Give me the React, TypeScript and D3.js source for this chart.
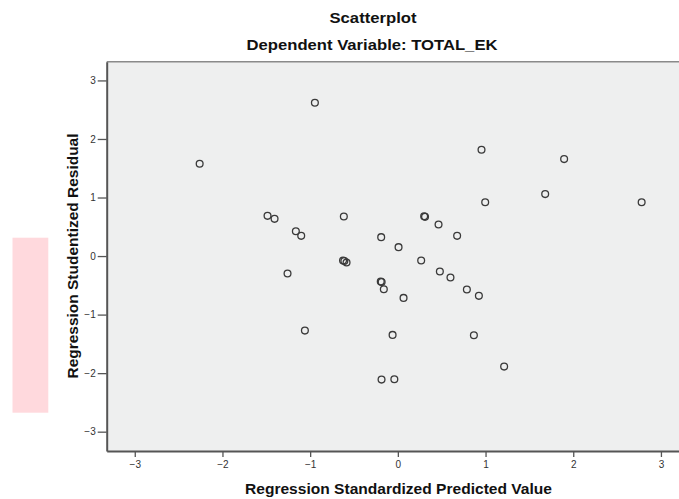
import React, { useEffect, useRef } from "react";
import * as d3 from "d3";

// values
const predicted = [
  -0.946, -2.26, -1.486, -1.406, -1.163, -1.102, -0.616, -0.19, 0.008, 0.954,
  1.896, 1.68, 0.996, 2.78, 0.3, 0.31, 0.464, 0.676, 0.266, 0.479, 0.6, 0.787,
  0.924, 0.065, -0.06, 0.867, 1.212, -0.04, -0.186, -1.258, -0.625, -0.61,
  -0.585, -0.195, -0.185, -0.16, -1.06,
];
const residual = [
  2.62, 1.576, 0.687, 0.636, 0.425, 0.345, 0.675, 0.323, 0.152, 1.815, 1.656,
  1.058, 0.92, 0.92, 0.68, 0.67, 0.54, 0.345, -0.077, -0.265, -0.367, -0.572,
  -0.68, -0.715, -1.347, -1.352, -1.888, -2.105, -2.11, -0.299, -0.075, -0.085,
  -0.111, -0.435, -0.445, -0.566, -1.273,
];
const ticks = [-3, -2, -1, 0, 1, 2, 3];

const title = "Scatterplot";
const subtitle = "Dependent Variable: TOTAL_EK";
const xTitle = "Regression Standardized Predicted Value";
const yTitle = "Regression Studentized Residual";

const App: React.FC = () => {
  const svgRef = useRef(null);

  useEffect(() => {
    const w = 679;
    const h = 499;
    const left = 106.7;
    const top = 61.7;
    const bottom = 451;
    const right = 689;

    const svg = d3.select(svgRef.current).attr("width", w).attr("height", h);
    const font = "'Liberation Sans', Arial, sans-serif";

    const x = d3.scaleLinear().domain([-3.32, 3.32]).range([left, right]);
    const y = d3.scaleLinear().domain([-3.33, 3.32]).range([bottom, top]);

    // pink block on the left
    svg
      .append("rect")
      .attr("x", 12.5)
      .attr("y", 237.7)
      .attr("width", 35.8)
      .attr("height", 175)
      .attr("fill", "#ffd9dd");

    // plot background
    svg
      .append("rect")
      .attr("x", left)
      .attr("y", top)
      .attr("width", right - left)
      .attr("height", bottom - top)
      .attr("fill", "#eeefef");

    svg
      .append("line")
      .attr("x1", left)
      .attr("x2", right)
      .attr("y1", top)
      .attr("y2", top)
      .attr("stroke", "#8a8a8a")
      .attr("stroke-width", 1.5);

    const xAxis = d3
      .axisBottom(x)
      .tickValues(ticks)
      .tickSize(6)
      .tickSizeOuter(0)
      .tickPadding(4)
      .tickFormat(d3.format("d"));
    const yAxis = d3
      .axisLeft(y)
      .tickValues(ticks)
      .tickSize(9)
      .tickSizeOuter(0)
      .tickPadding(2)
      .tickFormat(d3.format("d"));

    const gx = svg
      .append("g")
      .attr("transform", `translate(0, ${bottom})`)
      .call(xAxis);
    const gy = svg.append("g").attr("transform", `translate(${left}, 0)`).call(yAxis);

    [gx, gy].forEach((g) => {
      g.select(".domain").attr("stroke", "#555").attr("stroke-width", 2);
      g.selectAll(".tick line").attr("stroke", "#555").attr("stroke-width", 1.3);
      g.selectAll(".tick text")
        .attr("fill", "#333")
        .style("font-family", font)
        .style("font-size", "10px");
    });

    // points
    svg
      .append("g")
      .selectAll("circle")
      .data(predicted.map((p, i) => [p, residual[i]]))
      .enter()
      .append("circle")
      .attr("cx", (d) => x(d[0]))
      .attr("cy", (d) => y(d[1]))
      .attr("r", 3.4)
      .attr("fill", "none")
      .attr("stroke", "#3a3a3a")
      .attr("stroke-width", 1.3);

    const label = (t: string, tx: number, ty: number, len: number, rot = 0) =>
      svg
        .append("text")
        .attr("transform", `translate(${tx}, ${ty}) rotate(${rot})`)
        .attr("text-anchor", "middle")
        .attr("textLength", len)
        .attr("lengthAdjust", "spacingAndGlyphs")
        .style("font-family", font)
        .style("font-weight", "bold")
        .style("font-size", "15px")
        .attr("fill", "#111")
        .text(t);

    label(title, 373, 23, 87);
    label(subtitle, 372, 50, 251);
    label(xTitle, 398.5, 494, 307);
    label(yTitle, 78, 256, 245, -90);

    return () => {
      svg.selectAll("*").remove();
    };
  }, []);

  return (
    <svg
      ref={svgRef}
      style={{ position: "absolute", left: 0, top: 0, background: "#fff" }}
    />
  );
};

export default App;
